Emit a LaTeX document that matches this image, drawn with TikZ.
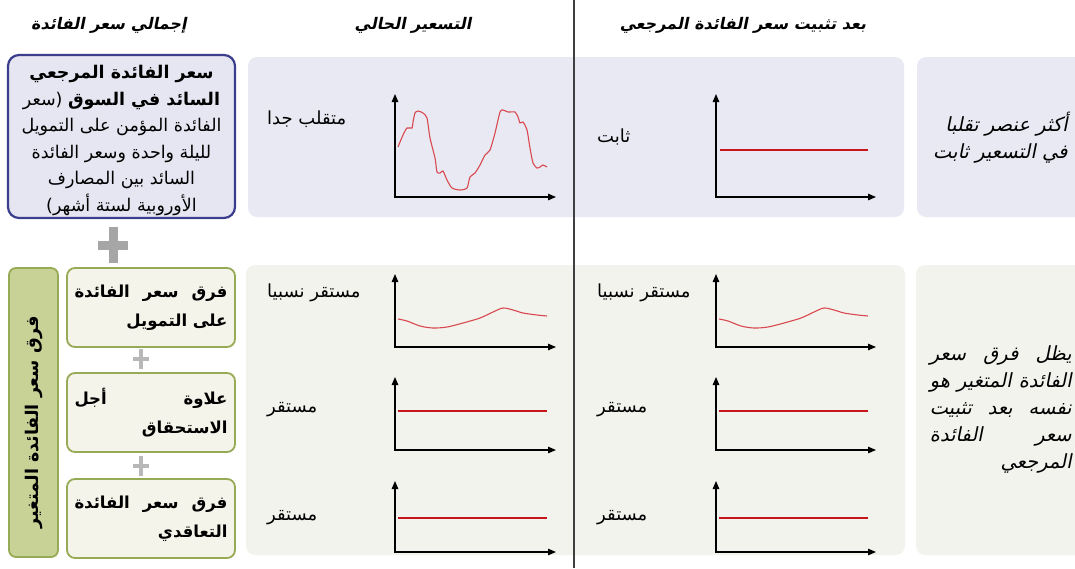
\documentclass[tikz,border=0pt]{standalone}
\usepackage{fontspec}
\usetikzlibrary{arrows.meta}
\TeXXeTstate=1
\newfontfamily\arabicfont[Script=Arabic]{DejaVu Sans}
\newfontfamily\arabicslant[Script=Arabic,FakeSlant=0.2]{DejaVu Sans}
\newcommand{\rtl}[1]{\beginR #1\endR}
\newcommand{\spreadline}[2]{\leavevmode\hbox to #1{\rtl{#2}}}
\definecolor{bandlav}{HTML}{E9E9F3}
\definecolor{bandsand}{HTML}{F3F3EE}
\definecolor{rimnavy}{HTML}{3B3E8C}
\definecolor{filllav}{HTML}{E6E6F2}
\definecolor{rimgreen}{HTML}{97AA55}
\definecolor{fillkhaki}{HTML}{C8D296}
\definecolor{fillpale}{HTML}{F4F4EA}
\definecolor{plusgray}{HTML}{A6A6A6}
\definecolor{pluslight}{HTML}{B8B8B8}
\definecolor{wavered}{HTML}{D9484E}
\definecolor{flatred}{HTML}{C8151C}
\definecolor{divider}{HTML}{3F3F3F}

\tikzset{
  band/.style={fill=#1, rounded corners=9pt},
  refbox/.style={draw=rimnavy, fill=filllav, line width=2.2pt, rounded corners=11pt,
    minimum width=227pt, minimum height=163pt},
  reftext/.style={align=center, font=\arabicfont\fontsize{17.5}{26.5}\selectfont},
  partbox/.style={draw=rimgreen, fill=fillpale, line width=1.8pt, rounded corners=8pt,
    minimum width=168pt, minimum height=79pt, text width=153pt, align=right,
    font=\arabicfont\bfseries\fontsize{16.5}{29}\selectfont},
  spine/.style={draw=rimgreen, fill=fillkhaki, line width=1.8pt, rounded corners=7pt,
    minimum width=49pt, minimum height=289pt},
  header/.style={font=\arabicslant\bfseries\fontsize{16}{19}\selectfont},
  note/.style={font=\arabicslant\fontsize{19.5}{27}\selectfont, align=right},
  lbl/.style={anchor=west, font=\arabicfont\fontsize{18}{20}\selectfont},
  axis/.style={{Triangle[length=8pt,width=6.5pt]}-{Triangle[length=8pt,width=6.5pt]}, line width=1.2pt},
  wave/.style={wavered, line width=1.1pt},
  flat/.style={flatred, line width=2pt},
  plusmark/.pic={
    \fill (-1,-0.3) rectangle (1,0.3);
    \fill (-0.3,-1.2) rectangle (0.3,1.2);
  }
}

\begin{document}
\begin{tikzpicture}[x=1pt, y=-1pt, every node/.style={inner sep=0pt}]
  \useasboundingbox (0,0) rectangle (1075,568);
  % bands
  \fill[band=bandlav] (248,57) rectangle (904,217);
  \fill[band=bandlav] (917,57) rectangle (1095,217);
  \fill[band=bandsand] (246,265) rectangle (905,555);
  \fill[band=bandsand] (916,265) rectangle (1095,555);
  \draw[divider, line width=1.3pt] (574,0) -- (574,568);

  % headers
  \node[header] (hTotal) at (109,25) {\rtl{إجمالي سعر الفائدة}};
  \node[header] (hNow) at (413,25) {\rtl{التسعير الحالي}};
  \node[header] (hFixed) at (743,25) {\rtl{بعد تثبيت سعر الفائدة المرجعي}};

  % left column
  \node[refbox] (ref) at (121.5,136.5) {};
  \node[reftext] (refTxt) at (121.5,140.5) {%
    \rtl{\textbf{سعر الفائدة المرجعي}}\\
    \rtl{\textbf{السائد في السوق} (سعر}\\
    \rtl{الفائدة المؤمن على التمويل}\\
    \rtl{لليلة واحدة وسعر الفائدة}\\
    \rtl{السائد بين المصارف}\\
    \rtl{الأوروبية لستة أشهر)}};
  \pic[plusgray, scale=15] at (113,245) {plusmark};
  \node[spine] (spine) at (33.5,412.5) {};
  \node[rotate=90, font=\arabicfont\bfseries\fontsize{17.5}{20}\selectfont] (spineTxt)
    at (33.5,422) {\rtl{فرق سعر الفائدة المتغير}};
  \node[partbox] (fund) at (151,307.5) {%
    \spreadline{153pt}{فرق\hfill سعر\hfill الفائدة}\\ \rtl{على التمويل}};
  \pic[pluslight, scale=8] at (141,359) {plusmark};
  \node[partbox] (term) at (151,412.5) {%
    \spreadline{153pt}{علاوة\hfill أجل}\\ \rtl{الاستحقاق}};
  \pic[pluslight, scale=8] at (141,466) {plusmark};
  \node[partbox] (deal) at (151,518.5) {%
    \spreadline{153pt}{فرق\hfill سعر\hfill الفائدة}\\ \rtl{التعاقدي}};

  % charts
  \foreach \cx/\ex in {395/556, 716/876} {
    \draw[axis] (\cx,94) -- (\cx,197) -- (\ex,197);
    \draw[axis] (\cx,274) -- (\cx,347) -- (\ex,347);
    \draw[axis] (\cx,377) -- (\cx,450) -- (\ex,450);
    \draw[axis] (\cx,481) -- (\cx,552) -- (\ex,552);
    \draw[wave, xshift=\cx pt] plot[smooth] coordinates {(3,319) (12,321) (25,326)
      (38,328) (52,327) (68,323) (85,318) (98,312) (108,308) (118,310) (128,313)
      (142,315) (152,316)};
    \draw[flat] ({\cx+3},411) -- ({\cx+152},411);
    \draw[flat] ({\cx+3},518) -- ({\cx+152},518);
  }
  \draw[flat] (720,150) -- (868,150);
  \draw[wave] plot[smooth, tension=0.4] coordinates {(398,147) (403,135) (407,128)
    (412,128) (413,122) (415,113) (418,111) (423,113) (427,118) (430,138) (435,158)
    (437,172) (440,173) (443,171) (447,180) (452,188) (460,190) (467,188) (470,177)
    (475,173) (480,165) (485,155) (490,150) (495,133) (500,112) (503,110) (508,112)
    (515,112) (518,117) (520,123) (523,122) (527,130) (530,148) (533,163) (537,168)
    (540,167) (543,165) (547,167)};

  % chart labels
  \node[lbl] (volatile) at (267,119) {\rtl{متقلب جدا}};
  \node[lbl] (fixed) at (597,137) {\rtl{ثابت}};
  \node[lbl] (relA) at (267,293) {\rtl{مستقر نسبيا}};
  \node[lbl] (relB) at (597,293) {\rtl{مستقر نسبيا}};
  \node[lbl] (stA) at (267,410) {\rtl{مستقر}};
  \node[lbl] (stB) at (597,410) {\rtl{مستقر}};
  \node[lbl] (stC) at (267,518) {\rtl{مستقر}};
  \node[lbl] (stD) at (597,518) {\rtl{مستقر}};

  % right notes
  \node[note, anchor=east] (noteTop) at (1068,137.5) {%
    \rtl{أكثر عنصر تقلبا}\\ \rtl{في التسعير ثابت}};
  \node[note, anchor=east, text width=142pt] (noteBottom) at (1072,409) {%
    \spreadline{142pt}{يظل\hfill فرق\hfill سعر}\\
    \spreadline{142pt}{الفائدة\hfill المتغير\hfill هو}\\
    \spreadline{142pt}{نفسه\hfill بعد\hfill تثبيت}\\
    \spreadline{142pt}{سعر\hfill الفائدة}\\
    \rtl{المرجعي}};
\end{tikzpicture}
\end{document}
